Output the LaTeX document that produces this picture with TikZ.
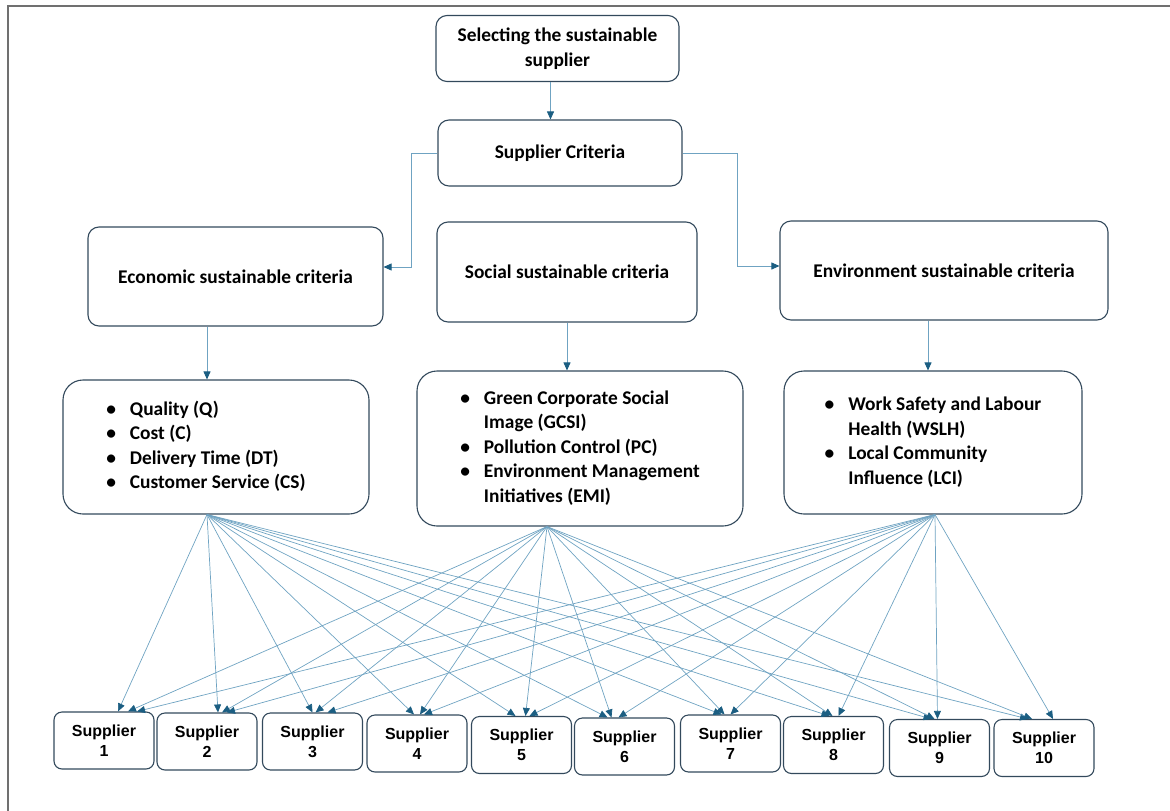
\documentclass[tikz,border=0pt]{standalone}
\usepackage{fontspec}
\setmainfont{Carlito}
\newfontfamily\supfont{Liberation Sans}
\usepackage{tikz}
\usetikzlibrary{positioning,arrows.meta}

\definecolor{boxline}{HTML}{33495C}
\definecolor{linkblue}{HTML}{6FA3C2}
\definecolor{tipblue}{HTML}{1B5E82}
\definecolor{framegray}{HTML}{707070}

\newcommand{\critfont}{\fontsize{19.4}{24.5}\selectfont\bfseries}

\begin{document}
\begin{tikzpicture}[
  x=1pt, y=-1pt,
  box/.style={draw=boxline, line width=1.1pt, rounded corners=11pt, align=center, inner sep=0pt, font=\critfont},
  listbox/.style={box, rounded corners=20pt},
  supbox/.style={draw=boxline, line width=1.1pt, rounded corners=8pt, align=center, inner sep=0pt,
                 minimum width=100pt, minimum height=57pt, font=\supfont\fontsize{16}{20}\selectfont\bfseries},
  link/.style={draw=linkblue, line width=0.8pt, -{Triangle[length=8pt,width=7pt,color=tipblue]}},
  fan/.style={draw=linkblue, line width=0.7pt, -{Triangle[length=8pt,width=7pt,color=tipblue]}}
    ]
\useasboundingbox (0,0) rectangle (1170,811);
\draw[framegray, line width=1.3pt] (8,811) -- (8,6) -- (1170,6);

% top of the tree
\node[box, minimum width=243pt, minimum height=66pt] (sel) at (557.5,48.5) {Selecting the sustainable\\supplier};
\node[box, minimum width=244pt, minimum height=66pt] (crit) at (560,153) {Supplier Criteria};

% three groups of criteria
\node[box, minimum width=295pt, minimum height=99pt] (econ) at (235.5,276.5) {Economic sustainable criteria};
\node[box, minimum width=260pt, minimum height=100pt] (social) at (567,272) {Social sustainable criteria};
\node[box, minimum width=328pt, minimum height=99pt] (env) at (944,270.5) {Environment sustainable criteria};

% lists of criteria
\node[listbox, minimum width=306pt, minimum height=134pt] (econlist) at (216,447) {%
  \begin{tabular}{@{}l@{\hspace{14pt}}l@{}}
  \textbullet & Quality (Q)\\
  \textbullet & Cost (C)\\
  \textbullet & Delivery Time (DT)\\
  \textbullet & Customer Service (CS)
  \end{tabular}\hspace{20pt}};
\node[listbox, minimum width=326pt, minimum height=155pt] (soclist) at (580,448.5) {%
  \begin{tabular}{@{}l@{\hspace{14pt}}l@{}}
  \textbullet & Green Corporate Social\\
              & Image (GCSI)\\
  \textbullet & Pollution Control (PC)\\
  \textbullet & Environment Management\\
              & Initiatives (EMI)
  \end{tabular}};
\node[listbox, minimum width=298pt, minimum height=143pt] (envlist) at (933,442.5) {%
  \begin{tabular}{@{}l@{\hspace{14pt}}l@{}}
  \textbullet & Work Safety and Labour\\
              & Health (WSLH)\\
  \textbullet & Local Community\\
              & Influence (LCI)
  \end{tabular}};

% suppliers
\foreach \i/\sx/\sy in {1/104/740.5, 2/207/741.5, 3/312.5/741.5, 4/417/743.5, 5/521.5/745,
                        6/624.5/746.5, 7/730.5/743.5, 8/833.5/745, 9/939.5/748, 10/1044/748}
  \node[supbox] (s\i) at (\sx,\sy) {Supplier\\\i};

% connectors
\draw[link] ([xshift=-7pt]sel.south) -- ([xshift=-7pt]sel.south |- crit.north);
\draw[link] (crit.west) -- ++(-26,0) |- ([yshift=9.5pt]econ.east);
\draw[link] (crit.east) -- ++(55,0) |- ([yshift=4.5pt]env.west);
\draw[link] ([xshift=-28.5pt]econ.south) -- ([xshift=-9pt]econlist.north);
\draw[link] (social.south) -- ([xshift=-13pt]soclist.north);
\draw[link] ([xshift=-16pt]env.south) -- ([xshift=-5pt]envlist.north);

\coordinate (econfan) at ([xshift=-9pt]econlist.south);
\coordinate (socfan) at ([xshift=-33pt]soclist.south);
\coordinate (envfan) at ([xshift=2pt]envlist.south);

\foreach \i/\a/\b/\c in {1/14/24/33, 2/11/15/20, 3/0/3/15, 4/-3/3/7, 5/-6/4/8,
                         6/-17/-13/-6, 7/-9/-6/0, 8/-4/-1/5, 9/-8/-5/-2, 10/-16/-12/9} {
  \draw[fan] (econfan) -- ([xshift=\a pt]s\i.north);
  \draw[fan] (socfan) -- ([xshift=\b pt]s\i.north);
  \draw[fan] (envfan) -- ([xshift=\c pt]s\i.north);
}

\end{tikzpicture}
\end{document}
